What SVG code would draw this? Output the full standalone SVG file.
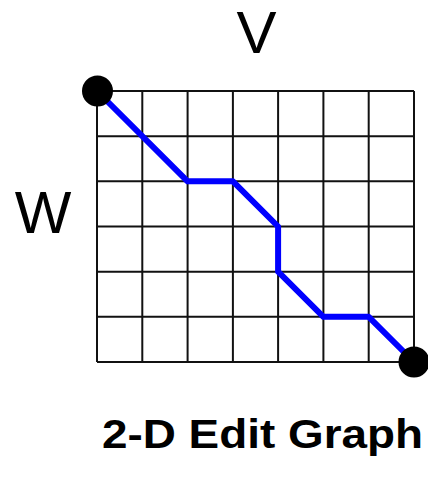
<svg xmlns="http://www.w3.org/2000/svg" width="428" height="479" viewBox="0 0 428 479">
<style>
.grid line{stroke:#111;stroke-width:2}
.lbl{font-family:"Liberation Sans",Arial,sans-serif;font-size:60px;fill:#000}
.title{font-family:"Liberation Sans",Arial,sans-serif;font-size:41px;font-weight:bold;fill:#000}
.dot{fill:#000}
</style>
<rect width="428" height="479" fill="#fff"/>
<g id="grid" class="grid">
<line x1="97" y1="91" x2="97" y2="362"/>
<line x1="142.3" y1="91" x2="142.3" y2="362"/>
<line x1="187.6" y1="91" x2="187.6" y2="362"/>
<line x1="232.9" y1="91" x2="232.9" y2="362"/>
<line x1="278.1" y1="91" x2="278.1" y2="362"/>
<line x1="323.4" y1="91" x2="323.4" y2="362"/>
<line x1="368.7" y1="91" x2="368.7" y2="362"/>
<line x1="414" y1="91" x2="414" y2="362"/>
<line x1="97" y1="91" x2="414" y2="91"/>
<line x1="97" y1="136.2" x2="414" y2="136.2"/>
<line x1="97" y1="181.3" x2="414" y2="181.3"/>
<line x1="97" y1="226.5" x2="414" y2="226.5"/>
<line x1="97" y1="271.7" x2="414" y2="271.7"/>
<line x1="97" y1="316.8" x2="414" y2="316.8"/>
<line x1="97" y1="362" x2="414" y2="362"/>
</g>
<g id="connectors">
<polyline points="97,91 187.6,181.3 232.9,181.3 278.1,226.5 278.1,271.7 323.4,316.8 368.7,316.8 414,362" fill="none" stroke="#0000ff" stroke-width="6" stroke-linejoin="round"/>
</g>
<g id="start"><circle class="dot" cx="97.5" cy="91" r="15.5"/></g>
<g id="end"><circle class="dot" cx="414" cy="362" r="15.5"/></g>
<g id="labelV"><text class="lbl" x="256.5" y="53" text-anchor="middle">V</text></g>
<g id="labelW"><text class="lbl" x="43" y="233" text-anchor="middle">W</text></g>
<g id="title"><text class="title" x="102" y="448" textLength="321" lengthAdjust="spacingAndGlyphs">2-D Edit Graph</text></g>
</svg>
